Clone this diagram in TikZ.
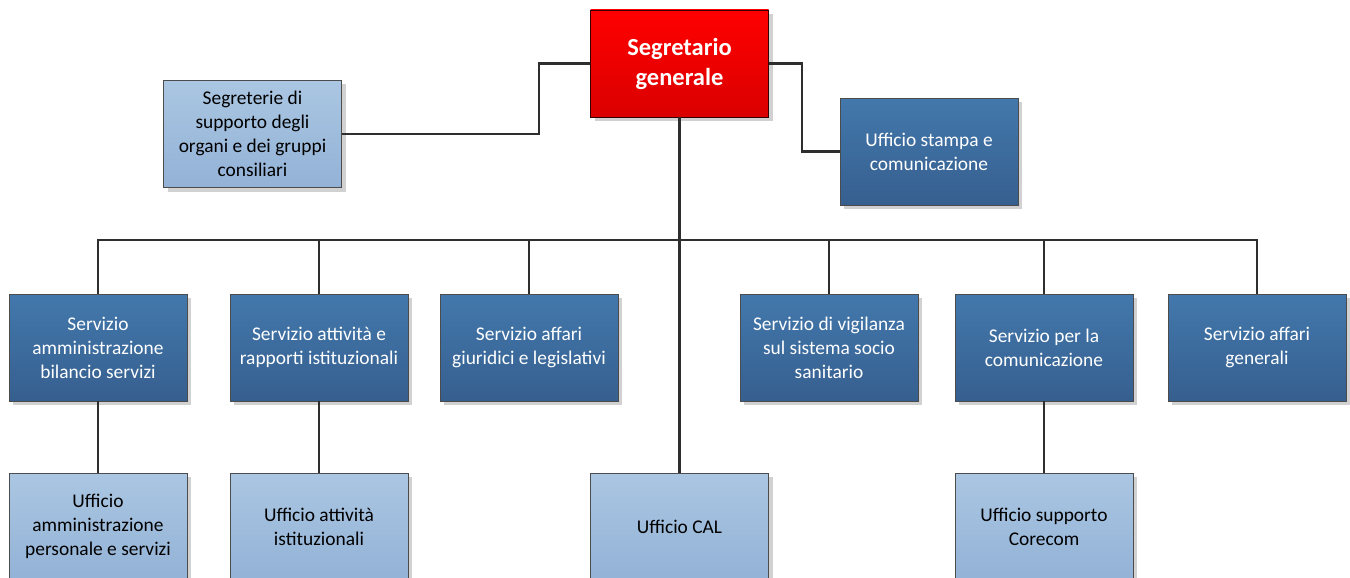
\documentclass[tikz,border=0pt]{standalone}
\usepackage{fontspec}
\setmainfont{Carlito}
\usetikzlibrary{shadows}

\definecolor{redtop}{HTML}{FF0000}
\definecolor{redbot}{HTML}{DA0000}
\definecolor{darktop}{HTML}{4378AC}
\definecolor{darkbot}{HTML}{365F8F}
\definecolor{lighttop}{HTML}{AAC6E2}
\definecolor{lightbot}{HTML}{93B2D6}
\definecolor{linkcol}{HTML}{2E2E2E}

\tikzset{
  unit/.style={rectangle, draw=black!70, line width=0.9pt, align=center,
    minimum width=178pt, minimum height=107pt, inner sep=2pt,
    font=\fontsize{19.4}{24}\selectfont,
    drop shadow={shadow xshift=4pt, shadow yshift=-4pt, fill=black!18, opacity=1}},
  headbox/.style={unit, top color=redtop, bottom color=redbot, text=white,
    draw=black!65!red!60!black,
    font=\fontsize{24.5}{30}\selectfont\bfseries},
  darkbox/.style={unit, top color=darktop, bottom color=darkbot, text=white},
  lightbox/.style={unit, top color=lighttop, bottom color=lightbot, text=black},
  link/.style={draw=linkcol, line width=2.2pt}
}

\begin{document}
\begin{tikzpicture}[x=1pt, y=-1pt]
  \useasboundingbox (0,0) rectangle (1350,578);
  \clip (0,0) rectangle (1350,578);

  % head and staff offices
  \node[headbox] (sg) at (679.5,63.5) {Segretario\\generale};
  \node[lightbox] (sgr) at (252.5,134) {Segreterie di\\supporto degli\\organi e dei gruppi\\consiliari};
  \node[darkbox] (st) at (929,151.5) {Ufficio stampa e\\comunicazione};

  % services
  \node[darkbox] (s1) at (98,347.5) {Servizio\\amministrazione\\bilancio servizi};
  \node[darkbox] (s2) at (319,347.5) {Servizio attività e\\rapporti istituzionali};
  \node[darkbox] (s3) at (529,347.5) {Servizio affari\\giuridici e legislativi};
  \node[darkbox] (s4) at (829,347.5) {Servizio di vigilanza\\sul sistema socio\\sanitario};
  \node[darkbox] (s5) at (1044,347.5) {Servizio per la\\comunicazione};
  \node[darkbox] (s6) at (1257,347.5) {Servizio affari\\generali};

  % offices
  \node[lightbox] (u1) at (98,526.5) {Ufficio\\amministrazione\\personale e servizi};
  \node[lightbox] (u2) at (319,526.5) {Ufficio attività\\istituzionali};
  \node[lightbox] (cal) at (679.5,526.5) {Ufficio CAL};
  \node[lightbox] (u5) at (1044,526.5) {Ufficio supporto\\Corecom};

  % junction of the service bus with the trunk
  \coordinate (bus) at (679.5,240);

  % connectors
  \path[link] (sg.west) -- ++(-51,0) |- (sgr.east);
  \path[link] (sg.east) -- ++(33,0) |- (st.west);
  \path[link] (sg.south) -- (cal.north);
  \foreach \s in {s1,s2,s3,s4,s5,s6}
    \path[link] (\s.north) |- (bus);
  \path[link] (s1.south) -- (u1.north);
  \path[link] (s2.south) -- (u2.north);
  \path[link] (s5.south) -- (u5.north);
\end{tikzpicture}
\end{document}
